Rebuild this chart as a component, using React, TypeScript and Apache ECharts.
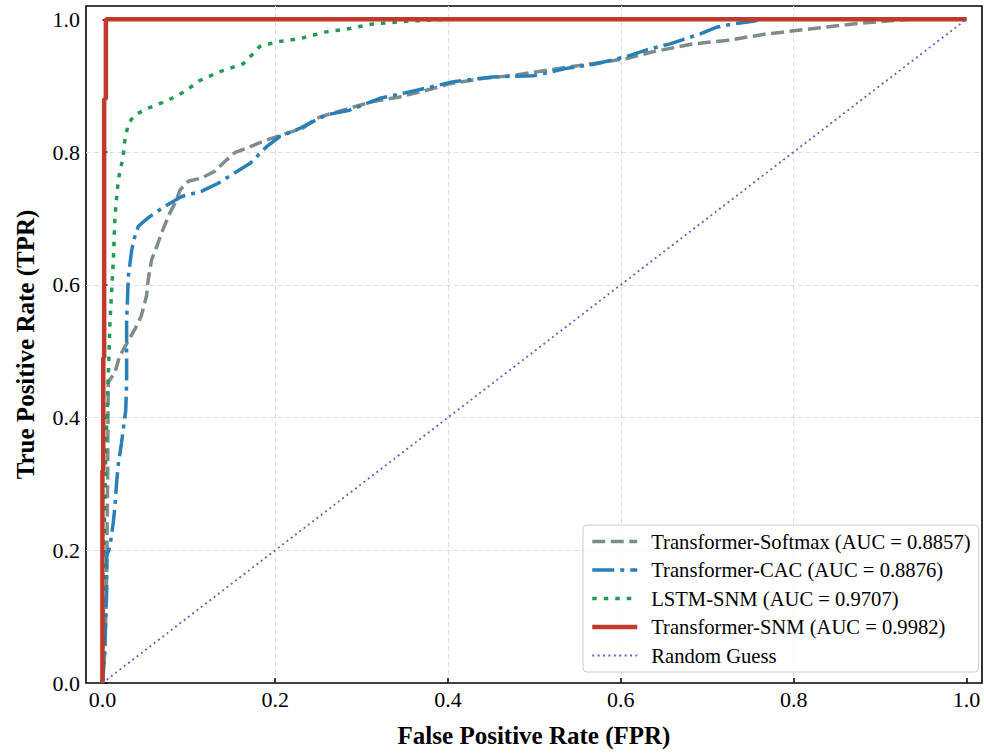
import React, { useEffect, useRef } from "react";
import * as echarts from "echarts";

const FONT = "'Liberation Serif', 'Times New Roman', serif";

const tickValues = [0, 0.2, 0.4, 0.6, 0.8, 1.0];

const seriesNames = [
  "Transformer-Softmax (AUC = 0.8857)",
  "Transformer-CAC (AUC = 0.8876)",
  "LSTM-SNM (AUC = 0.9707)",
  "Transformer-SNM (AUC = 0.9982)",
  "Random Guess",
];

const softmaxFpr = [0, 0.003, 0.005, 0.006, 0.0067, 0.0145, 0.02, 0.028, 0.0376, 0.045, 0.051, 0.053, 0.057, 0.063, 0.07, 0.078, 0.084, 0.09, 0.0993, 0.115, 0.13, 0.142, 0.153, 0.171, 0.19, 0.213, 0.232, 0.248, 0.267, 0.286, 0.313, 0.344, 0.375, 0.402, 0.441, 0.479, 0.518, 0.556, 0.607, 0.637, 0.684, 0.722, 0.769, 0.823, 0.869, 0.915, 0.935, 1.0];
const softmaxTpr = [0, 0.05, 0.17, 0.3, 0.453, 0.468, 0.493, 0.511, 0.533, 0.553, 0.583, 0.608, 0.638, 0.658, 0.683, 0.708, 0.723, 0.743, 0.756, 0.761, 0.771, 0.786, 0.799, 0.808, 0.818, 0.828, 0.836, 0.851, 0.859, 0.866, 0.876, 0.883, 0.893, 0.903, 0.911, 0.916, 0.924, 0.931, 0.941, 0.951, 0.963, 0.968, 0.978, 0.986, 0.993, 0.998, 1.0, 1.0];

const cacFpr = [0, 0.002, 0.003, 0.005, 0.005, 0.0087, 0.0125, 0.0145, 0.0164, 0.018, 0.022, 0.024, 0.027, 0.028, 0.028, 0.03, 0.034, 0.0376, 0.0415, 0.053, 0.072, 0.0917, 0.115, 0.134, 0.15, 0.171, 0.19, 0.205, 0.229, 0.259, 0.286, 0.321, 0.364, 0.406, 0.452, 0.499, 0.537, 0.572, 0.607, 0.63, 0.657, 0.692, 0.711, 0.73, 0.753, 0.765, 1.0];
const cacTpr = [0, 0.03, 0.06, 0.141, 0.191, 0.206, 0.241, 0.266, 0.301, 0.326, 0.361, 0.381, 0.411, 0.451, 0.543, 0.613, 0.653, 0.673, 0.688, 0.701, 0.718, 0.733, 0.741, 0.753, 0.766, 0.783, 0.808, 0.823, 0.836, 0.856, 0.863, 0.881, 0.893, 0.906, 0.913, 0.915, 0.926, 0.933, 0.944, 0.954, 0.963, 0.978, 0.988, 0.993, 0.997, 1.0, 1.0];

const lstmFpr = [0, 0.001, 0.002, 0.004, 0.0067, 0.0087, 0.0125, 0.0145, 0.0183, 0.024, 0.026, 0.03, 0.0376, 0.053, 0.076, 0.095, 0.113, 0.136, 0.163, 0.175, 0.182, 0.202, 0.229, 0.259, 0.286, 0.313, 0.352, 0.4, 1.0];
const lstmTpr = [0, 0.1, 0.22, 0.35, 0.458, 0.543, 0.633, 0.703, 0.758, 0.793, 0.818, 0.843, 0.856, 0.866, 0.878, 0.891, 0.908, 0.921, 0.933, 0.949, 0.959, 0.966, 0.971, 0.981, 0.986, 0.993, 0.997, 1.0, 1.0];

const snmFpr = [0, 0, 0.001, 0.001, 0.002, 0.002, 0.004, 0.004, 1.0];
const snmTpr = [0, 0.32, 0.32, 0.49, 0.49, 0.88, 0.88, 1.0, 1.0];

const randomFpr = [0, 1];
const randomTpr = [0, 1];

const colors = ["#7f8c8d", "#2980b9", "#229954", "#c0392b", "#6a5acd"];
const widths = [3.5, 3.5, 3.5, 4.5, 1.8];
const dashes: (number[] | string)[] = [[13, 5.5], [22, 6, 4, 6], [4.5, 7], "solid", [2, 3.4]];

const pair = (xs: number[], ys: number[]) => xs.map((x, i) => [x, ys[i]]);

export default function App() {
  const ref = useRef<HTMLDivElement>(null);
  useEffect(() => {
    if (!ref.current) return;
    const chart = echarts.init(ref.current, null, { renderer: "svg" });
    const datasets = [
      pair(softmaxFpr, softmaxTpr),
      pair(cacFpr, cacTpr),
      pair(lstmFpr, lstmTpr),
      pair(snmFpr, snmTpr),
      pair(randomFpr, randomTpr),
    ];
    const series = datasets.map((d, i) => ({
      type: "line",
      name: seriesNames[i],
      data: d,
      symbol: "none",
      showSymbol: false,
      smooth: false,
      lineStyle: { color: colors[i], width: widths[i], type: dashes[i] },
      itemStyle: { color: colors[i] },
      emphasis: { disabled: true },
      z: 2 + i,
    }));
    const axisCommon = {
      type: "value",
      axisLine: { show: false },
      axisTick: {
        show: true,
        inside: true,
        length: 5,
        customValues: tickValues,
        lineStyle: { color: "#000", width: 1.5 },
      },
      axisLabel: {
        customValues: tickValues,
        formatter: (v: number) => v.toFixed(1),
        fontFamily: FONT,
        fontSize: 22,
        color: "#000",
      },
      splitLine: {
        show: true,
        showMinLine: false,
        showMaxLine: false,
        lineStyle: { color: "#dcdcdc", width: 1, type: [5, 3] },
      },
      nameLocation: "middle",
      nameTextStyle: { fontFamily: FONT, fontWeight: "bold", fontSize: 25, color: "#000" },
    };
    chart.setOption({
      animation: false,
      backgroundColor: "#fff",
      grid: {
        left: 86,
        right: 2,
        top: 6,
        bottom: 68,
        show: true,
        borderColor: "#000",
        borderWidth: 1.6,
        backgroundColor: "transparent",
      },
      xAxis: {
        ...axisCommon,
        min: -0.019,
        max: 1.018,
        axisLabel: { ...axisCommon.axisLabel, margin: 5 },
        name: "False Positive Rate (FPR)",
        nameGap: 40,
      },
      yAxis: {
        ...axisCommon,
        min: 0,
        max: 1.02,
        axisLabel: { ...axisCommon.axisLabel, margin: 6 },
        name: "True Positive Rate (TPR)",
        nameGap: 48,
      },
      legend: {
        orient: "vertical",
        left: 583,
        top: 525,
        padding: [6, 8, 6, 7],
        itemWidth: 45,
        itemHeight: 14,
        itemGap: 7.5,
        backgroundColor: "rgba(255,255,255,0.85)",
        borderColor: "#cccccc",
        borderWidth: 1,
        borderRadius: 4,
        selectedMode: false,
        textStyle: { fontFamily: FONT, fontSize: 20.6, color: "#000", padding: [0, 0, 0, 9] },
        data: seriesNames.map((n, i) => ({
          name: n,
          lineStyle: { color: colors[i], width: widths[i], type: dashes[i] },
          itemStyle: { color: colors[i], opacity: 0 },
        })),
      },
      series,
    });
    return () => chart.dispose();
  }, []);
  return <div ref={ref} style={{ width: 984, height: 753, position: "absolute", left: 0, top: 0 }} />;
}
